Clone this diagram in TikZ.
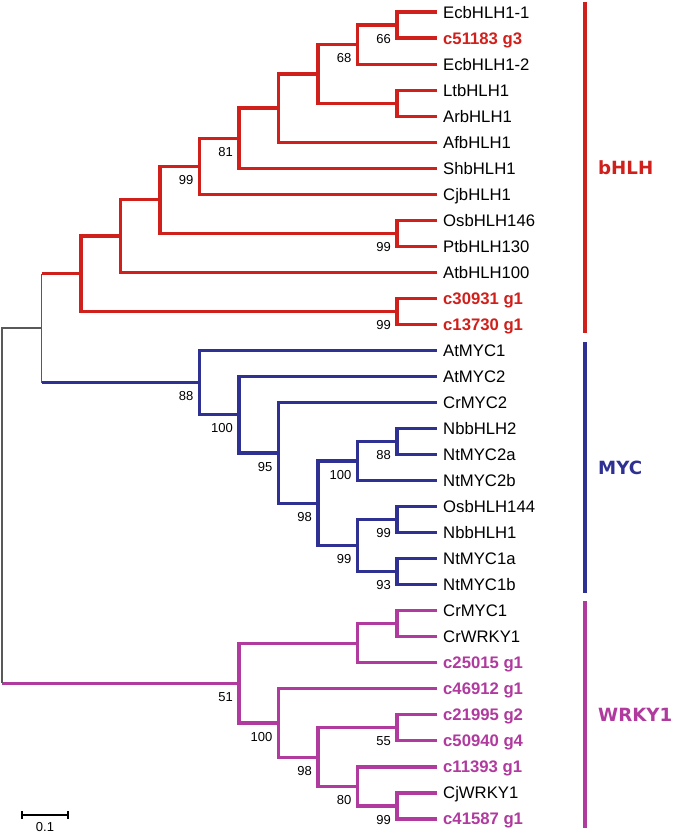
\documentclass[tikz,border=0pt]{standalone}
\usepackage{fontspec}
\setmainfont{Liberation Sans}
\newfontfamily\groupfont{DejaVu Sans}
\usepackage{tikz}

\definecolor{bhlhred}{RGB}{208,32,28}
\definecolor{mycblue}{RGB}{46,49,146}
\definecolor{wrkypink}{RGB}{176,58,158}

\begin{document}
\begin{tikzpicture}[x=1pt, y=-1pt,
    leaf/.style={anchor=west, inner xsep=6.5pt, inner ysep=0pt, text height=12pt, text depth=0pt,
      font=\fontsize{16.7}{18}\selectfont},
    ours/.style={font=\fontsize{16.7}{18}\selectfont\bfseries, text=#1},
    boot/.style={anchor=east, inner sep=0pt, xshift=-6pt, yshift=-13.5pt, text height=9.3pt, text depth=0pt,
      font=\fontsize{13}{14}\selectfont},
    branch/.style={line width=3.2pt},
    stem/.style={line width=1.3pt, draw=black!65},
    group/.style={anchor=west, inner sep=0pt, font=\groupfont\bfseries\fontsize{18.2}{20}\selectfont}]
      \useasboundingbox (0,0) rectangle (675,836);
      % leaves
      \node[leaf] (ecb11) at (436.5,12.0) {EcbHLH1-1};
      \node[leaf, ours=bhlhred] (c51183) at (436.5,38.0) {c51183 g3};
      \node[leaf] (ecb12) at (436.5,64.1) {EcbHLH1-2};
      \node[leaf] (lt) at (436.5,90.1) {LtbHLH1};
      \node[leaf] (ar) at (436.5,116.1) {ArbHLH1};
      \node[leaf] (af) at (436.5,142.2) {AfbHLH1};
      \node[leaf] (sh) at (436.5,168.2) {ShbHLH1};
      \node[leaf] (cj) at (436.5,194.2) {CjbHLH1};
      \node[leaf] (os146) at (436.5,220.2) {OsbHLH146};
      \node[leaf] (pt) at (436.5,246.3) {PtbHLH130};
      \node[leaf] (at100) at (436.5,272.3) {AtbHLH100};
      \node[leaf, ours=bhlhred] (c30931) at (436.5,298.3) {c30931 g1};
      \node[leaf, ours=bhlhred] (c13730) at (436.5,324.4) {c13730 g1};
      \node[leaf] (at1) at (436.5,350.4) {AtMYC1};
      \node[leaf] (at2) at (436.5,376.4) {AtMYC2};
      \node[leaf] (cr2) at (436.5,402.5) {CrMYC2};
      \node[leaf] (nb2) at (436.5,428.5) {NbbHLH2};
      \node[leaf] (nt2a) at (436.5,454.5) {NtMYC2a};
      \node[leaf] (nt2b) at (436.5,480.5) {NtMYC2b};
      \node[leaf] (os144) at (436.5,506.6) {OsbHLH144};
      \node[leaf] (nb1) at (436.5,532.6) {NbbHLH1};
      \node[leaf] (nt1a) at (436.5,558.6) {NtMYC1a};
      \node[leaf] (nt1b) at (436.5,584.7) {NtMYC1b};
      \node[leaf] (crmyc1) at (436.5,610.7) {CrMYC1};
      \node[leaf] (crwrky) at (436.5,636.7) {CrWRKY1};
      \node[leaf, ours=wrkypink] (c25015) at (436.5,662.8) {c25015 g1};
      \node[leaf, ours=wrkypink] (c46912) at (436.5,688.8) {c46912 g1};
      \node[leaf, ours=wrkypink] (c21995) at (436.5,714.8) {c21995 g2};
      \node[leaf, ours=wrkypink] (c50940) at (436.5,740.8) {c50940 g4};
      \node[leaf, ours=wrkypink] (c11393) at (436.5,766.9) {c11393 g1};
      \node[leaf] (cjwrky) at (436.5,792.9) {CjWRKY1};
      \node[leaf, ours=wrkypink] (c41587) at (436.5,818.9) {c41587 g1};
      % inner nodes
      \coordinate (nE1) at (397,25.0);
      \coordinate (nE) at (357.5,44.6);
      \coordinate (nLA) at (397,103.1);
      \coordinate (b6) at (318,73.9);
      \coordinate (b5) at (278.5,108.0);
      \coordinate (b4) at (239,138.1);
      \coordinate (b3) at (199.5,166.2);
      \coordinate (nOP) at (397,233.2);
      \coordinate (b2) at (160,199.7);
      \coordinate (b1) at (120.5,236.0);
      \coordinate (nC) at (397,311.4);
      \coordinate (b0) at (81,273.7);
      \coordinate (nN2) at (397,441.5);
      \coordinate (nN) at (357.5,461.0);
      \coordinate (nON) at (397,519.6);
      \coordinate (nNt1) at (397,571.6);
      \coordinate (nM1) at (357.5,545.6);
      \coordinate (m3) at (318,503.3);
      \coordinate (m2) at (278.5,452.9);
      \coordinate (m1) at (239,414.7);
      \coordinate (m0) at (199.5,382.5);
      \coordinate (nCr) at (397,623.7);
      \coordinate (w3) at (357.5,643.2);
      \coordinate (nC2) at (397,727.8);
      \coordinate (nCj) at (397,805.9);
      \coordinate (nC11) at (357.5,786.4);
      \coordinate (w2) at (318,757.1);
      \coordinate (w1) at (278.5,723.0);
      \coordinate (w0) at (239,683.1);
      \coordinate (top) at (41.5,328.1);
      \coordinate (root) at (2,505.6);
      % bHLH
      \begin{scope}[branch, bhlhred]
        \draw (ecb11.west) -| (nE1) |- (c51183.west);
        \draw (nE1) -| (nE) |- (ecb12.west);
        \draw (lt.west) -| (nLA) |- (ar.west);
        \draw (nE) -| (b6) |- (nLA);
        \draw (b6) -| (b5) |- (af.west);
        \draw (b5) -| (b4) |- (sh.west);
        \draw (b4) -| (b3) |- (cj.west);
        \draw (os146.west) -| (nOP) |- (pt.west);
        \draw (b3) -| (b2) |- (nOP);
        \draw (b2) -| (b1) |- (at100.west);
        \draw (c30931.west) -| (nC) |- (c13730.west);
        \draw (b1) -| (b0) |- (nC);
        \draw (b0 -| top) -- (b0);
        \draw (585,2) -- (585,333);
      \end{scope}
      % MYC
      \begin{scope}[branch, mycblue]
        \draw (at1.west) -| (m0) |- (m1);
        \draw (at2.west) -| (m1) |- (m2);
        \draw (cr2.west) -| (m2) |- (m3);
        \draw (nb2.west) -| (nN2) |- (nt2a.west);
        \draw (nN2) -| (nN) |- (nt2b.west);
        \draw (os144.west) -| (nON) |- (nb1.west);
        \draw (nt1a.west) -| (nNt1) |- (nt1b.west);
        \draw (nON) -| (nM1) |- (nNt1);
        \draw (nN) -| (m3) |- (nM1);
        \draw (m0 -| top) -- (m0);
        \draw (585,342) -- (585,593);
      \end{scope}
      % WRKY1
      \begin{scope}[branch, wrkypink]
        \draw (crmyc1.west) -| (nCr) |- (crwrky.west);
        \draw (nCr) -| (w3) |- (c25015.west);
        \draw (c21995.west) -| (nC2) |- (c50940.west);
        \draw (cjwrky.west) -| (nCj) |- (c41587.west);
        \draw (c11393.west) -| (nC11) |- (nCj);
        \draw (nC2) -| (w2) |- (nC11);
        \draw (c46912.west) -| (w1) |- (w2);
        \draw (w3) -| (w0) |- (w1);
        \draw (w0 -| root) -- (w0);
        \draw (585,601) -- (585,828);
      \end{scope}
      % gray stems
      \draw[stem] (b0 -| top) -- (m0 -| top);
      \draw[stem] (top) -- (top -| root) -- (w0 -| root);
      % bootstrap values
      \node[boot] (bs1) at (nE1) {66};
      \node[boot] (bs2) at (nE) {68};
      \node[boot] (bs3) at (b4) {81};
      \node[boot] (bs4) at (b3) {99};
      \node[boot] (bs5) at (nOP) {99};
      \node[boot] (bs6) at (nC) {99};
      \node[boot] (bs7) at (m0) {88};
      \node[boot] (bs8) at (m1) {100};
      \node[boot] (bs9) at (m2) {95};
      \node[boot] (bs10) at (m3) {98};
      \node[boot] (bs11) at (nN) {100};
      \node[boot] (bs12) at (nN2) {88};
      \node[boot] (bs13) at (nON) {99};
      \node[boot] (bs14) at (nM1) {99};
      \node[boot] (bs15) at (nNt1) {93};
      \node[boot] (bs16) at (w0) {51};
      \node[boot] (bs17) at (w1) {100};
      \node[boot] (bs18) at (w2) {98};
      \node[boot] (bs19) at (nC2) {55};
      \node[boot] (bs20) at (nC11) {80};
      \node[boot] (bs21) at (nCj) {99};
      % groups
      \node[group, text=bhlhred] (bhlh) at (598,167.5) {bHLH};
      \node[group, text=mycblue] (myc) at (598,467.5) {MYC};
      \node[group, text=wrkypink] (wrky) at (598,714.5) {WRKY1};
      % scale bar
      \draw[line width=1.5pt] (22,815) -- (68,815) (22,811) -- (22,819) (68,811) -- (68,819);
      \node[inner sep=0pt, font=\fontsize{13}{14}\selectfont] (scale) at (45,827) {0.1};
    \end{tikzpicture}
\end{document}
